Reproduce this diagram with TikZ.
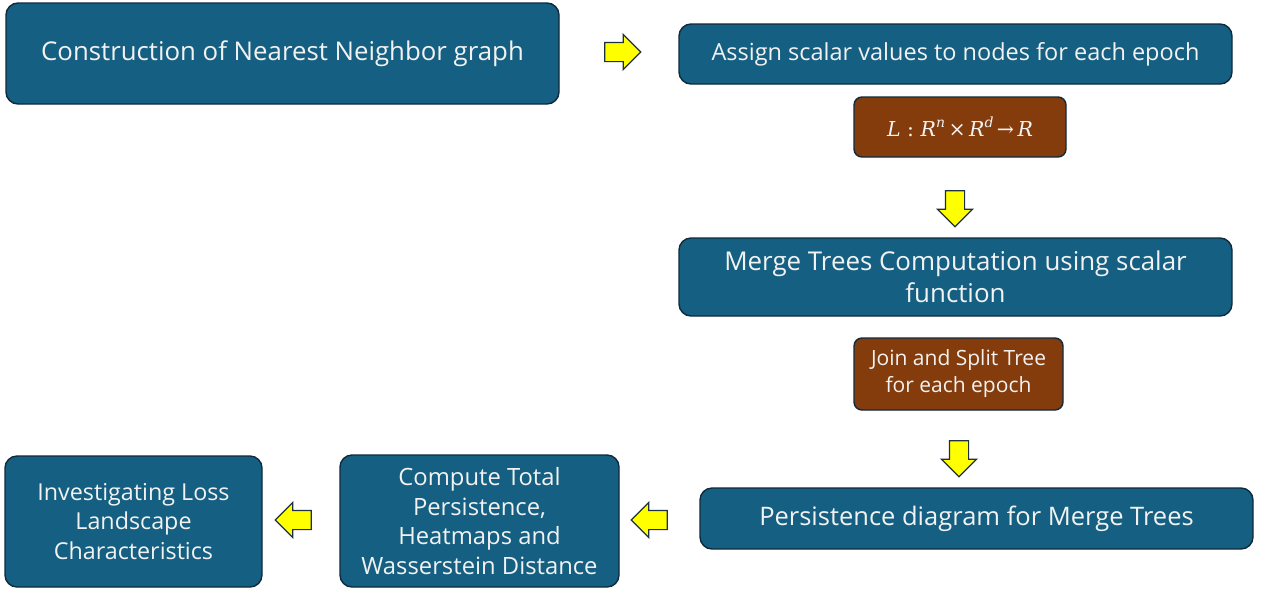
\documentclass[tikz,border=0pt]{standalone}
\usepackage{fontspec}
\setmainfont{Open Sans}
\newfontfamily\dserif{DejaVu Serif}
\usetikzlibrary{shapes.arrows}
\definecolor{boxblue}{HTML}{156082}
\definecolor{boxedge}{HTML}{0E2A3C}
\definecolor{boxbrown}{HTML}{843C0C}
\definecolor{txt}{HTML}{F2F2F2}
\definecolor{arrowfill}{HTML}{FFFF00}
\definecolor{arrowedge}{HTML}{1F3040}
\newcommand{\supit}[1]{\raisebox{0.42em}{\fontsize{14}{14}\selectfont\itshape #1}}
\tikzset{
  bluebox/.style={draw=boxedge, line width=1.4pt, fill=boxblue, rounded corners=12pt,
    text=txt, align=center, inner sep=2pt},
  brownbox/.style={draw=boxedge, line width=1.4pt, fill=boxbrown, rounded corners=8pt,
    text=txt, align=center, inner sep=2pt},
  blockarrow/.style={single arrow, draw=arrowedge, fill=arrowfill, line width=1.2pt,
    inner sep=0pt, minimum height=36pt, single arrow head extend=8pt,
    text height=18pt, text depth=0pt, text width=0pt},
}
\begin{document}
\begin{tikzpicture}[x=1pt,y=-1pt]
\useasboundingbox (0,0) rectangle (1263,590);
\fill[white] (0,0) rectangle (1263,590);

\node[bluebox, minimum width=553pt, minimum height=101pt, font=\fontsize{25.8}{28}\selectfont] (nn) at (282.5,53.5) {Construction of Nearest Neighbor graph};
\node[bluebox, minimum width=553pt, minimum height=60pt, font=\fontsize{23.5}{24}\selectfont] (assign) at (955.5,54) {Assign scalar values to nodes for each epoch};
\node[brownbox, minimum width=212pt, minimum height=60pt, font=\dserif\fontsize{20.5}{24}\selectfont] (loss) at (960,127) {\textit{L} : \textit{R}\supit{n}\,×\,\textit{R}\supit{d}\,→\,\textit{R}};
\node[bluebox, minimum width=553pt, minimum height=78pt, font=\fontsize{25.9}{32}\selectfont] (merge) at (955.5,277) {Merge Trees Computation using scalar\\function};
\node[brownbox, minimum width=209pt, minimum height=72pt, font=\fontsize{21}{27}\selectfont] (join) at (958.5,374) {Join and Split Tree\\for each epoch};
\node[bluebox, minimum width=553pt, minimum height=61pt, font=\fontsize{25.5}{26}\selectfont] (pers) at (976.5,518.5) {Persistence diagram for Merge Trees};
\node[bluebox, minimum width=279pt, minimum height=132pt, font=\fontsize{23.8}{29.7}\selectfont] (comp) at (479.5,521) {Compute Total\\Persistence,\\Heatmaps and\\Wasserstein Distance};
\node[bluebox, minimum width=257pt, minimum height=131pt, font=\fontsize{23.3}{29.5}\selectfont] (inv) at (133.5,521.5) {Investigating Loss\\Landscape\\Characteristics};

\node[blockarrow] (a1) at (618,52) {};
\node[blockarrow, rotate=-90] (a2) at (955,204) {};
\node[blockarrow, rotate=-90] (a3) at (959,454) {};
\node[blockarrow, rotate=180] (a4) at (654,520) {};
\node[blockarrow, rotate=180] (a5) at (298,520) {};
\end{tikzpicture}
\end{document}
